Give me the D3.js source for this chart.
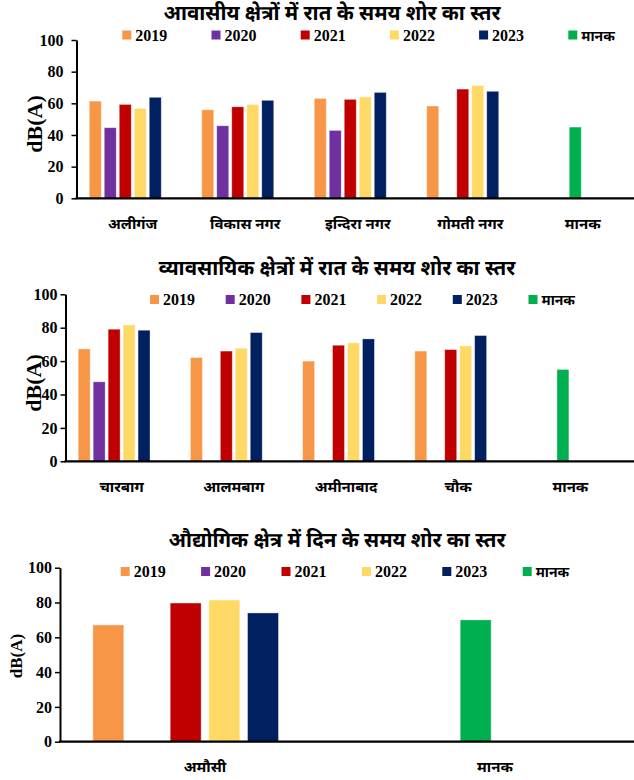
<!DOCTYPE html>
<html><head><meta charset="utf-8">
<script src="https://cdn.jsdelivr.net/npm/d3@7/dist/d3.min.js"></script>
<style>body{margin:0;background:#fff} svg{display:block}</style>
</head><body><svg id="c" width="634" height="780"></svg>
<script>
// ---------- data ----------
const seriesNames = ["2019", "2020", "2021", "2022", "2023", "मानक"];
const seriesColors = ["#F79646", "#7030A0", "#C00000", "#FFD966", "#002060", "#00B050"];
const yTicks = [0, 20, 40, 60, 80, 100];

const resTitle = "आवासीय क्षेत्रों में रात के समय शोर का स्तर";
const resCategories = ["अलीगंज", "विकास नगर", "इन्दिरा नगर", "गोमती नगर", "मानक"];
const res2019 = [61.4, 55.9, 63.1, 58.3, null];
const res2020 = [44.6, 45.8, 42.9, null, null];
const res2021 = [59.3, 57.8, 62.5, 69.0, null];
const res2022 = [56.8, 59.3, 64.0, 71.3, null];
const res2023 = [63.8, 61.9, 66.9, 67.6, null];
const resStandard = [null, null, null, null, 45];

const comTitle = "व्यावसायिक क्षेत्रों में रात के समय शोर का स्तर";
const comCategories = ["चारबाग", "आलमबाग", "अमीनाबाद", "चौक", "मानक"];
const com2019 = [67.3, 62.1, 60.0, 66.0, null];
const com2020 = [47.6, null, null, null, null];
const com2021 = [79.1, 66.0, 69.5, 66.9, null];
const com2022 = [81.7, 67.7, 70.9, 69.1, null];
const com2023 = [78.5, 77.1, 73.3, 75.3, null];
const comStandard = [null, null, null, null, 55];

const indTitle = "औद्योगिक क्षेत्र में दिन के समय शोर का स्तर";
const indCategories = ["अमौसी", "मानक"];
const ind2019 = [67.1, null];
const ind2020 = [null, null];
const ind2021 = [79.7, null];
const ind2022 = [81.4, null];
const ind2023 = [74.0, null];
const indStandard = [null, 70];

// ---------- drawing ----------
const DEV = "'Noto Sans Devanagari','Lohit Devanagari','Mangal','Noto Sans',sans-serif";
const SERIF = "'Liberation Serif','Times New Roman',serif";
const svg = d3.select("#c");

function drawChart(o) {
  const g = svg.append("g");
  const y = d3.scaleLinear().domain([0, 100]).range([o.bottom, o.top]);
  const n = o.categories.length;
  const x0 = d3.scaleBand().domain(o.categories)
    .range([o.left, o.left + o.step * n]).paddingInner(0.2).paddingOuter(0.1);
  const x1 = d3.scaleBand().domain(seriesNames)
    .range([0, x0.bandwidth()]).paddingInner(0.2).paddingOuter(0.1);

  // bars
  const rows = [];
  o.series.forEach((vals, si) => {
    vals.forEach((v, ci) => {
      if (v != null) rows.push({cat: o.categories[ci], slot: seriesNames[si], v, color: seriesColors[si]});
    });
  });
  // standard value occupies the 2021 column of the "मानक" category
  o.standard.forEach((v, ci) => {
    if (v != null) rows.push({cat: o.categories[ci], slot: seriesNames[2], v, color: seriesColors[5]});
  });
  g.selectAll("rect.bar").data(rows).join("rect").attr("class", "bar")
    .attr("x", d => x0(d.cat) + x1(d.slot))
    .attr("width", x1.bandwidth())
    .attr("y", d => y(d.v))
    .attr("height", d => y(0) - y(d.v))
    .attr("fill", d => d.color)
    .attr("stroke", "rgba(255,255,255,0.45)").attr("stroke-width", 0.8);

  // y axis
  const ax = g.append("g").attr("transform", `translate(${o.left},0)`)
    .call(d3.axisLeft(y).tickValues(yTicks).tickSize(5).tickSizeOuter(0).tickPadding(o.tickPad));
  ax.attr("font-family", SERIF);
  ax.select(".domain").attr("stroke", "#000").attr("stroke-width", 2);
  ax.selectAll(".tick line").attr("stroke", "#000").attr("stroke-width", 1.5);
  ax.selectAll(".tick text").attr("font-family", SERIF).attr("font-weight", "bold")
    .attr("font-size", o.tickFont).attr("fill", "#000");

  // x axis line
  g.append("line").attr("x1", o.left - 1).attr("x2", 634)
    .attr("y1", y(0)).attr("y2", y(0)).attr("stroke", "#000").attr("stroke-width", 2.2);

  // category labels
  g.selectAll("text.cat").data(o.categories).join("text").attr("class", "cat")
    .attr("x", d => x0(d) + x0.bandwidth() / 2).attr("y", o.catY)
    .attr("text-anchor", "middle").attr("font-family", DEV).attr("font-weight", "bold")
    .attr("font-size", 15).attr("fill", "#000").text(d => d);

  // title
  g.append("text").attr("x", o.titleX).attr("y", o.titleY).attr("text-anchor", "middle")
    .attr("font-family", DEV).attr("font-weight", "bold").attr("font-size", 20.5)
    .attr("fill", "#000").text(o.title);

  // y label
  g.append("text").attr("transform", `translate(${o.ylabX},${o.ylabY}) rotate(-90)`)
    .attr("text-anchor", "middle").attr("font-family", SERIF).attr("font-weight", "bold")
    .attr("font-size", o.ylabFont).attr("fill", "#000").text("dB(A)");

  // legend
  const lg = g.append("g");
  seriesNames.forEach((s, i) => {
    const lx = o.legX + i * o.legStep;
    lg.append("rect").attr("x", lx).attr("y", o.legY - 10).attr("width", 9).attr("height", 9)
      .attr("fill", seriesColors[i]);
    lg.append("text").attr("x", lx + 13).attr("y", o.legY)
      .attr("font-family", i === 5 ? DEV : SERIF).attr("font-weight", "bold")
      .attr("font-size", i === 5 ? 14 : 16).attr("fill", "#000").text(s);
  });
}

drawChart({
  title: resTitle, categories: resCategories,
  series: [res2019, res2020, res2021, res2022, res2023], standard: resStandard,
  top: 40, bottom: 198.3, left: 76.5, step: 112.5, tickPad: 8, tickFont: 16,
  catY: 229, titleX: 332, titleY: 20, ylabX: 42, ylabY: 124, ylabFont: 22,
  legX: 122.3, legStep: 89.2, legY: 40.5
});
drawChart({
  title: comTitle, categories: comCategories,
  series: [com2019, com2020, com2021, com2022, com2023], standard: comStandard,
  top: 294.3, bottom: 461.3, left: 65.5, step: 112.2, tickPad: 3, tickFont: 16,
  catY: 492, titleX: 337, titleY: 275, ylabX: 41, ylabY: 383, ylabFont: 22,
  legX: 150, legStep: 75.7, legY: 305
});
drawChart({
  title: indTitle, categories: indCategories,
  series: [ind2019, ind2020, ind2021, ind2022, ind2023], standard: indStandard,
  top: 567.7, bottom: 741.7, left: 60, step: 290, tickPad: 3, tickFont: 16,
  catY: 772, titleX: 337, titleY: 547, ylabX: 22, ylabY: 656, ylabFont: 17,
  legX: 120.7, legStep: 80.4, legY: 577
});
</script></body></html>
